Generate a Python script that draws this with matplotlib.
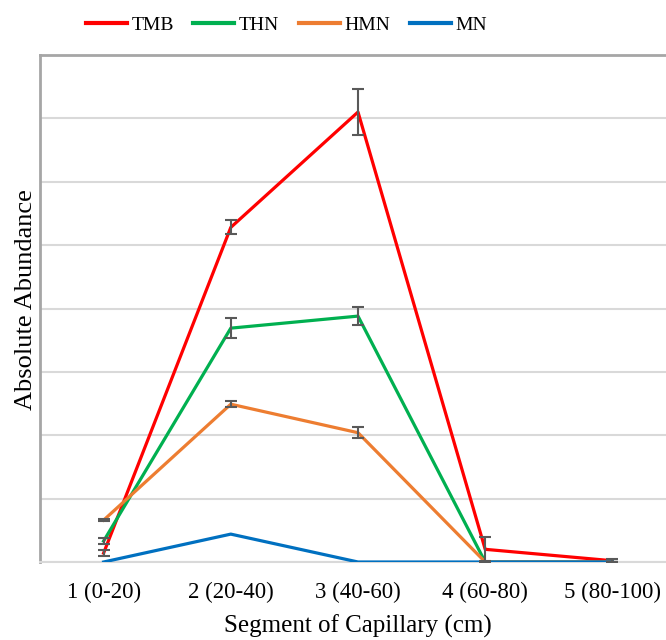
import matplotlib.pyplot as plt
import numpy as np

plt.rcParams['font.family'] = ['Liberation Serif', 'DejaVu Serif']

# datos
segmentos = ['1 (0-20)', '2 (20-40)', '3 (40-60)', '4 (60-80)', '5 (80-100)']
tmb = [0.14, 5.28, 7.10, 0.20, 0.02]
tmb_err = [0.05, 0.11, 0.36, 0.19, 0.02]
thn = [0.33, 3.69, 3.88, 0.0, 0.0]
thn_err = [0.05, 0.16, 0.14, 0.0, 0.0]
hmn = [0.66, 2.49, 2.04, 0.0, 0.0]
hmn_err = [0.02, 0.05, 0.09, 0.0, 0.0]
mn = [0.0, 0.44, 0.0, 0.0, 0.0]

x = np.arange(1, len(segmentos) + 1)

fig = plt.figure(figsize=(6.66, 6.4), dpi=100)
ax = fig.add_axes([40/666, 78/640, 636/666, 507/640])

series = [
    ('TMB', tmb, tmb_err, '#FF0000'),
    ('THN', thn, thn_err, '#00B050'),
    ('HMN', hmn, hmn_err, '#ED7D31'),
    ('MN', mn, None, '#0070C0'),
]
for nombre, vals, err, col in series:
    ax.plot(x, vals, color=col, lw=2.3, label=nombre, zorder=3)
    if err is not None:
        ax.errorbar(x, vals, yerr=err, fmt='none', ecolor='#595959',
                    elinewidth=1.5, capsize=4.5, capthick=1.5, zorder=4)

ax.set_xlim(0.5, 5.5)
ax.set_ylim(0, 8)
ax.set_yticks(np.arange(0, 9, 1))
ax.set_yticklabels([])
ax.tick_params(axis='y', length=0)
ax.tick_params(axis='x', length=0, labelsize=16.5, pad=14)
ax.set_xticks(x)
ax.set_xticklabels(segmentos)
ax.grid(axis='y', color='#D9D9D9', lw=1.5, zorder=0)
ax.set_axisbelow(True)

for s in ['top', 'left']:
    ax.spines[s].set_color('#A6A6A6')
    ax.spines[s].set_linewidth(2)
ax.spines['right'].set_visible(False)
ax.spines['bottom'].set_color('#D9D9D9')
ax.spines['bottom'].set_linewidth(1.5)

ax.set_xlabel('Segment of Capillary (cm)', fontsize=18)
ax.xaxis.set_label_coords(0.5, -0.104)
ax.set_ylabel('Absolute Abundance', fontsize=19)
ax.yaxis.set_label_coords(-0.005, 0.517)

leg = fig.legend(loc='center', bbox_to_anchor=(0.43, 0.961), ncol=4, frameon=False,
                 fontsize=14, handlelength=2.1, columnspacing=1.0, handletextpad=0.25)
for linea in leg.get_lines():
    linea.set_linewidth(3)

plt.savefig('out.png', dpi=100)
